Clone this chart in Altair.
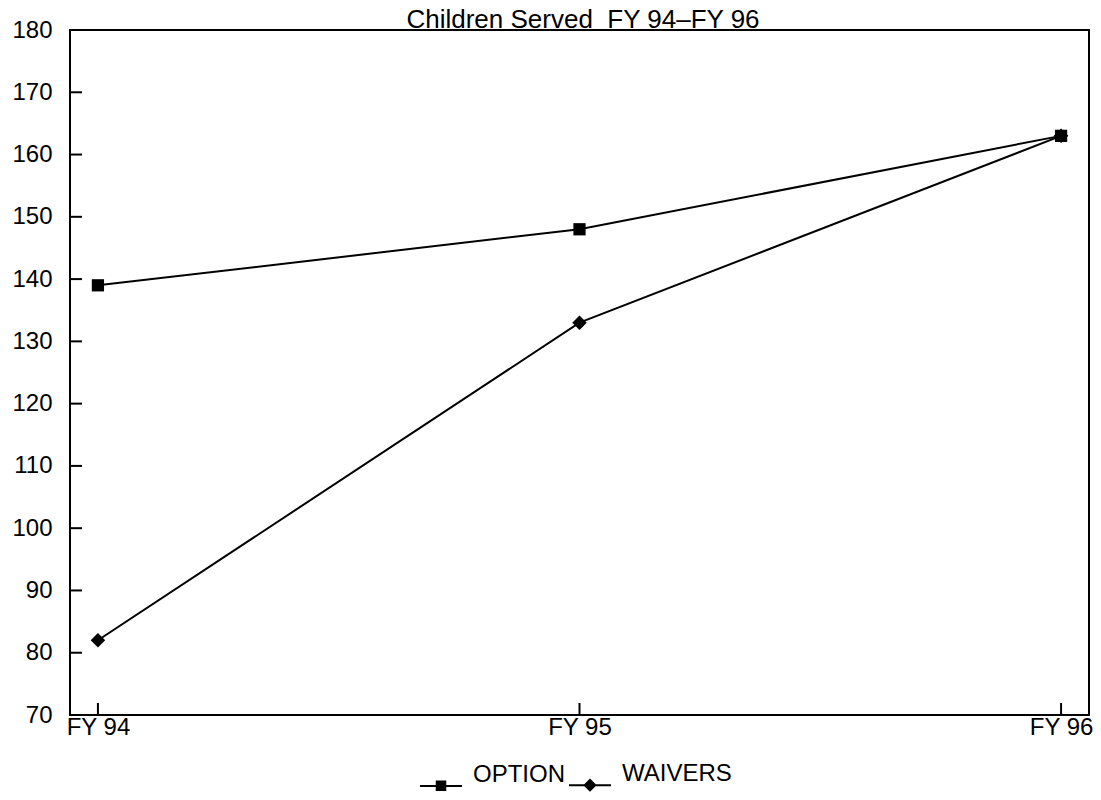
import altair as alt
import pandas as pd

years = ["FY 94", "FY 95", "FY 96"]
series_names = ["OPTION", "WAIVERS"]
option = [139, 148, 163]
waivers = [82, 133, 163]
y_ticks = [70, 80, 90, 100, 110, 120, 130, 140, 150, 160, 170, 180]
title_text = "Children Served\u00a0\u00a0FY 94\u2013FY 96"

rows = []
for name, vals in zip(series_names, [option, waivers]):
    for i, (yr, v) in enumerate(zip(years, vals)):
        rows.append({"idx": i, "year": yr, "value": v, "series": name})
df = pd.DataFrame(rows)
ticks_df = pd.DataFrame({"v": y_ticks})
xt_df = pd.DataFrame({"idx": list(range(len(years)))})
title_df = pd.DataFrame({"t": [title_text]})

W, H = 1019, 685
FONT = "Liberation Sans"
PAD = 0.058

label_expr = "[" + ",".join("'" + y + "'" for y in years) + "][datum.value]"

xscale = alt.Scale(domain=[-PAD, len(years) - 1 + PAD], nice=False, zero=False)
yscale = alt.Scale(domain=[70, 180], nice=False, zero=False)

xaxis = alt.Axis(title=None, labelAngle=0, ticks=False, domain=False, grid=False,
                 values=list(range(len(years))), labelExpr=label_expr,
                 labelFontSize=24, labelFont=FONT, labelColor="black", labelPadding=0)
yaxis = alt.Axis(title=None, values=y_ticks, ticks=False, domain=False, grid=False,
                 labelFontSize=24, labelFont=FONT, labelColor="black", labelPadding=18)

X = alt.X("idx:Q", scale=xscale, axis=xaxis)
Y = alt.Y("value:Q", scale=yscale, axis=yaxis)

lines = alt.Chart(df).mark_line(color="black", strokeWidth=2).encode(
    x=X, y=Y, detail="series:N"
)

points = alt.Chart(df).mark_point(filled=True, color="black", opacity=1).encode(
    x=X, y=Y,
    shape=alt.Shape("series:N", scale=alt.Scale(domain=series_names, range=["square", "diamond"]), legend=None),
    size=alt.Size("series:N", scale=alt.Scale(domain=series_names, range=[150, 210]), legend=None),
)

opt_path = ("M-1,0.15L1,0.15L1,0.24L-1,0.24Z"
            "M-0.25,-0.06L0.25,-0.06L0.25,0.44L-0.25,0.44Z")
wai_path = ("M-1,0.15L1,0.15L1,0.24L-1,0.24Z"
            "M0,-0.13L0.32,0.19L0,0.51L-0.32,0.19Z")

legend_layer = alt.Chart(df).mark_point(filled=True, color="black", opacity=0, size=1764).encode(
    x=X, y=Y,
    shape=alt.Shape(
        "series:N",
        scale=alt.Scale(domain=series_names, range=[opt_path, wai_path]),
        legend=alt.Legend(
            title=None, orient="none", direction="horizontal",
            legendX=349, legendY=729,
            labelFontSize=24, labelFont=FONT, labelColor="black",
            labelBaseline="alphabetic", labelOffset=10, columnPadding=0,
            symbolSize=1764, symbolOpacity=1, symbolFillColor="black",
            padding=0,
        ),
    ),
)

ytick_rules = alt.Chart(ticks_df).mark_rule(color="black", strokeWidth=2).encode(
    y=alt.Y("v:Q", scale=yscale, axis=yaxis),
    x=alt.value(0), x2=alt.value(12),
)
xtick_rules = alt.Chart(xt_df).mark_rule(color="black", strokeWidth=2).encode(
    x=alt.X("idx:Q", scale=xscale, axis=xaxis),
    y=alt.value(H), y2=alt.value(H - 12),
)

title_mark = alt.Chart(title_df).mark_text(
    font=FONT, fontSize=26, color="black", align="center", baseline="alphabetic"
).encode(
    x=alt.value(513), y=alt.value(-2), text="t:N"
)

chart = alt.layer(ytick_rules, xtick_rules, lines, points, legend_layer, title_mark).resolve_scale(
    shape="independent"
).properties(
    width=W, height=H,
    padding={"left": 62, "top": 22, "right": 4, "bottom": 77},
    autosize=alt.AutoSizeParams(type="none"),
    background="white",
).configure_view(stroke="black", strokeWidth=2)

chart.save("out.html", embed_options={"renderer": "svg", "actions": False})
